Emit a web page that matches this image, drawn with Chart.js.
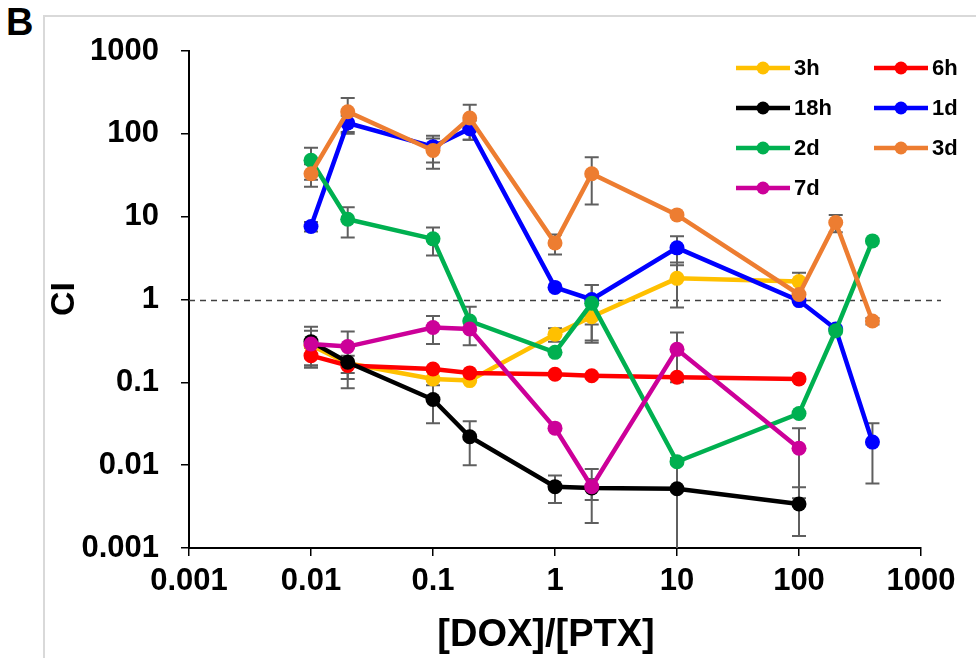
<!DOCTYPE html>
<html>
<head>
<meta charset="utf-8">
<script src="https://cdn.jsdelivr.net/npm/chart.js@4.4.1/dist/chart.umd.min.js"></script>
<style>
  html, body { margin: 0; padding: 0; background: #fff; }
  #wrap { position: relative; width: 976px; height: 658px; overflow: hidden; }
  #frame { position: absolute; left: 43px; top: 15px; width: 940px; height: 660px;
           border-left: 2px solid #d9d9d9; border-top: 2px solid #d9d9d9; }
  #panel { position: absolute; left: 6px; top: 1px; font: bold 38px "Liberation Sans", Arial, sans-serif; color: #000; }
  canvas { position: absolute; left: 0; top: 0; }
</style>
</head>
<body>
<div id="wrap">
  <div id="frame"></div>
  <div id="panel">B</div>
  <canvas id="c" width="976" height="658"></canvas>
</div>
<script>
// ---- data ----
const ratios = [0.01, 0.02, 0.1, 0.2, 1, 2, 10, 100, 200, 400];
const seriesNames = ['3h', '6h', '18h', '1d', '2d', '3d', '7d'];
const seriesColors = ['#FFC000', '#FF0000', '#000000', '#0000FF', '#00B050', '#ED7D31', '#CC0099'];

const ci3h  = [0.28, 0.17, 0.11, 0.105, 0.38, 0.62, 1.8, 1.65, null, null];
const ci6h  = [0.21, 0.16, 0.145, 0.13, 0.125, 0.12, 0.115, 0.11, null, null];
const ci18h = [0.31, 0.175, 0.062, 0.022, 0.0055, 0.0053, 0.0052, 0.0034, null, null];
const ci1d  = [7.6, 135, 70, 115, 1.4, 1.0, 4.2, 0.97, 0.44, 0.019];
const ci2d  = [48, 9.3, 5.4, 0.55, 0.23, 0.9, 0.011, 0.042, 0.42, 5.1];
const ci3d  = [33, 185, 63, 155, 4.8, 33, 10.5, 1.15, 8.5, 0.55];
const ci7d  = [0.29, 0.27, 0.46, 0.44, 0.028, 0.0055, 0.25, 0.016, null, null];

// standard deviations (error bars)
const sd3h  = [null, null, null, null, 0.07, 0.3, 1.0, 0.45, null, null];
const sd6h  = [0.05, 0.05, null, null, null, null, null, null, null, null];
const sd18h = [0.16, 0.09, 0.03, 0.012, 0.002, 0.0015, 0.007, 0.002, null, null];
const sd1d  = [1.0, 30, 25, 30, null, 0.5, 1.6, null, null, 0.013];
const sd2d  = [20, 3.7, 2.0, 0.27, null, 0.6, null, null, null, null];
const sd3d  = [10, 85, 25, 70, 1.3, 19, null, null, 2, 0.05];
const sd7d  = [0.13, 0.14, 0.17, null, null, 0.0035, 0.15, 0.012, null, null];

const xTickValues = [0.001, 0.01, 0.1, 1, 10, 100, 1000];
const xTickLabels = ['0.001', '0.01', '0.1', '1', '10', '100', '1000'];
const yTickValues = [0.001, 0.01, 0.1, 1, 10, 100, 1000];
const yTickLabels = ['0.001', '0.01', '0.1', '1', '10', '100', '1000'];
const refLine = 1;

const values = [ci3h, ci6h, ci18h, ci1d, ci2d, ci3d, ci7d];
const errors = [sd3h, sd6h, sd18h, sd1d, sd2d, sd3d, sd7d];

// ---- chart ----
const FONT = '"Liberation Sans", Arial, sans-serif';

const datasets = seriesNames.map((name, i) => ({
  label: name,
  data: ratios.map((x, j) => values[i][j] == null ? null : { x: x, y: values[i][j] }).filter(p => p),
  borderColor: seriesColors[i],
  backgroundColor: seriesColors[i],
  borderWidth: 4.5,
  pointRadius: 7.5,
  pointBorderWidth: 0,
  pointHoverRadius: 7.5,
  tension: 0,
  order: seriesNames.length - i,
  errs: ratios.map((x, j) => values[i][j] == null ? null : { x: x, y: values[i][j], e: errors[i][j] }).filter(p => p)
}));

const extras = {
  id: 'extras',
  beforeDatasetsDraw(chart) {
    const ctx = chart.ctx, xs = chart.scales.x, ys = chart.scales.y, area = chart.chartArea;
    ctx.save();
    // reference line at CI = 1
    ctx.strokeStyle = '#404040';
    ctx.lineWidth = 1.5;
    ctx.setLineDash([6, 5]);
    const yr = Math.round(ys.getPixelForValue(refLine)) + 0.5;
    ctx.beginPath(); ctx.moveTo(area.left, yr); ctx.lineTo(area.right + 20, yr); ctx.stroke();
    ctx.setLineDash([]);
    // error bars
    ctx.strokeStyle = '#5f5f5f';
    ctx.lineWidth = 2;
    chart.data.datasets.forEach(ds => {
      ds.errs.forEach(p => {
        if (p.e == null) return;
        const px = xs.getPixelForValue(p.x);
        const top = ys.getPixelForValue(p.y + p.e);
        const lowV = p.y - p.e;
        const clipped = !(lowV > 0) || ys.getPixelForValue(lowV) > area.bottom;
        const bot = clipped ? area.bottom : ys.getPixelForValue(lowV);
        ctx.beginPath();
        ctx.moveTo(px, top); ctx.lineTo(px, bot);
        ctx.moveTo(px - 7, top); ctx.lineTo(px + 7, top);
        if (!clipped) { ctx.moveTo(px - 7, bot); ctx.lineTo(px + 7, bot); }
        ctx.stroke();
      });
    });
    ctx.restore();
  },
  afterDraw(chart) {
    const ctx = chart.ctx;
    ctx.save();
    ctx.fillStyle = '#000';
    // axis titles
    ctx.font = 'bold 38px ' + FONT;
    ctx.textAlign = 'center';
    ctx.textBaseline = 'middle';
    ctx.fillText('[DOX]/[PTX]', 546, 636);
    ctx.save();
    ctx.translate(65, 299);
    ctx.rotate(-Math.PI / 2);
    ctx.font = 'bold 34px ' + FONT;
    ctx.fillText('CI', 0, 0);
    ctx.restore();
    // legend
    const cols = [736, 874];
    const rows = [68, 108, 148, 188];
    ctx.font = 'bold 22px ' + FONT;
    ctx.textAlign = 'left';
    ctx.textBaseline = 'middle';
    seriesNames.forEach((name, i) => {
      const x0 = cols[i % 2], y0 = rows[Math.floor(i / 2)];
      ctx.strokeStyle = seriesColors[i];
      ctx.lineWidth = 4.5;
      ctx.beginPath(); ctx.moveTo(x0, y0); ctx.lineTo(x0 + 54, y0); ctx.stroke();
      ctx.fillStyle = seriesColors[i];
      ctx.beginPath(); ctx.arc(x0 + 27, y0, 6.5, 0, Math.PI * 2); ctx.fill();
      ctx.fillStyle = '#000';
      ctx.fillText(name, x0 + 58, y0 + 1);
    });
    ctx.restore();
  }
};

new Chart(document.getElementById('c'), {
  type: 'line',
  data: { datasets: datasets },
  plugins: [extras],
  options: {
    responsive: false,
    animation: false,
    devicePixelRatio: 1,
    layout: { padding: { left: 0, right: 55, top: 51, bottom: 0 } },
    plugins: { legend: { display: false }, tooltip: { enabled: false } },
    scales: {
      x: {
        type: 'logarithmic',
        min: 0.001, max: 1000,
        afterBuildTicks: s => { s.ticks = xTickValues.map(v => ({ value: v })); },
        afterFit: s => { s.height = 110; },
        ticks: {
          callback: (v) => { const k = xTickValues.indexOf(v); return k >= 0 ? xTickLabels[k] : ''; },
          font: { family: FONT, size: 31, weight: 'bold' },
          color: '#000', maxRotation: 0, autoSkip: false, padding: 7
        },
        grid: { drawOnChartArea: false, drawTicks: true, tickLength: 8, color: '#000', lineWidth: 1.5 },
        border: { display: true, color: '#000', width: 2 }
      },
      y: {
        type: 'logarithmic',
        min: 0.001, max: 1000,
        afterBuildTicks: s => { s.ticks = yTickValues.map(v => ({ value: v })); },
        afterFit: s => { s.width = 189; },
        ticks: {
          callback: (v) => { const k = yTickValues.indexOf(v); return k >= 0 ? yTickLabels[k] : ''; },
          font: { family: FONT, size: 31, weight: 'bold' },
          color: '#000', autoSkip: false, padding: 22
        },
        grid: { drawOnChartArea: false, drawTicks: true, tickLength: 8, color: '#000', lineWidth: 1.5 },
        border: { display: true, color: '#000', width: 2 }
      }
    }
  }
});
</script>
</body>
</html>
